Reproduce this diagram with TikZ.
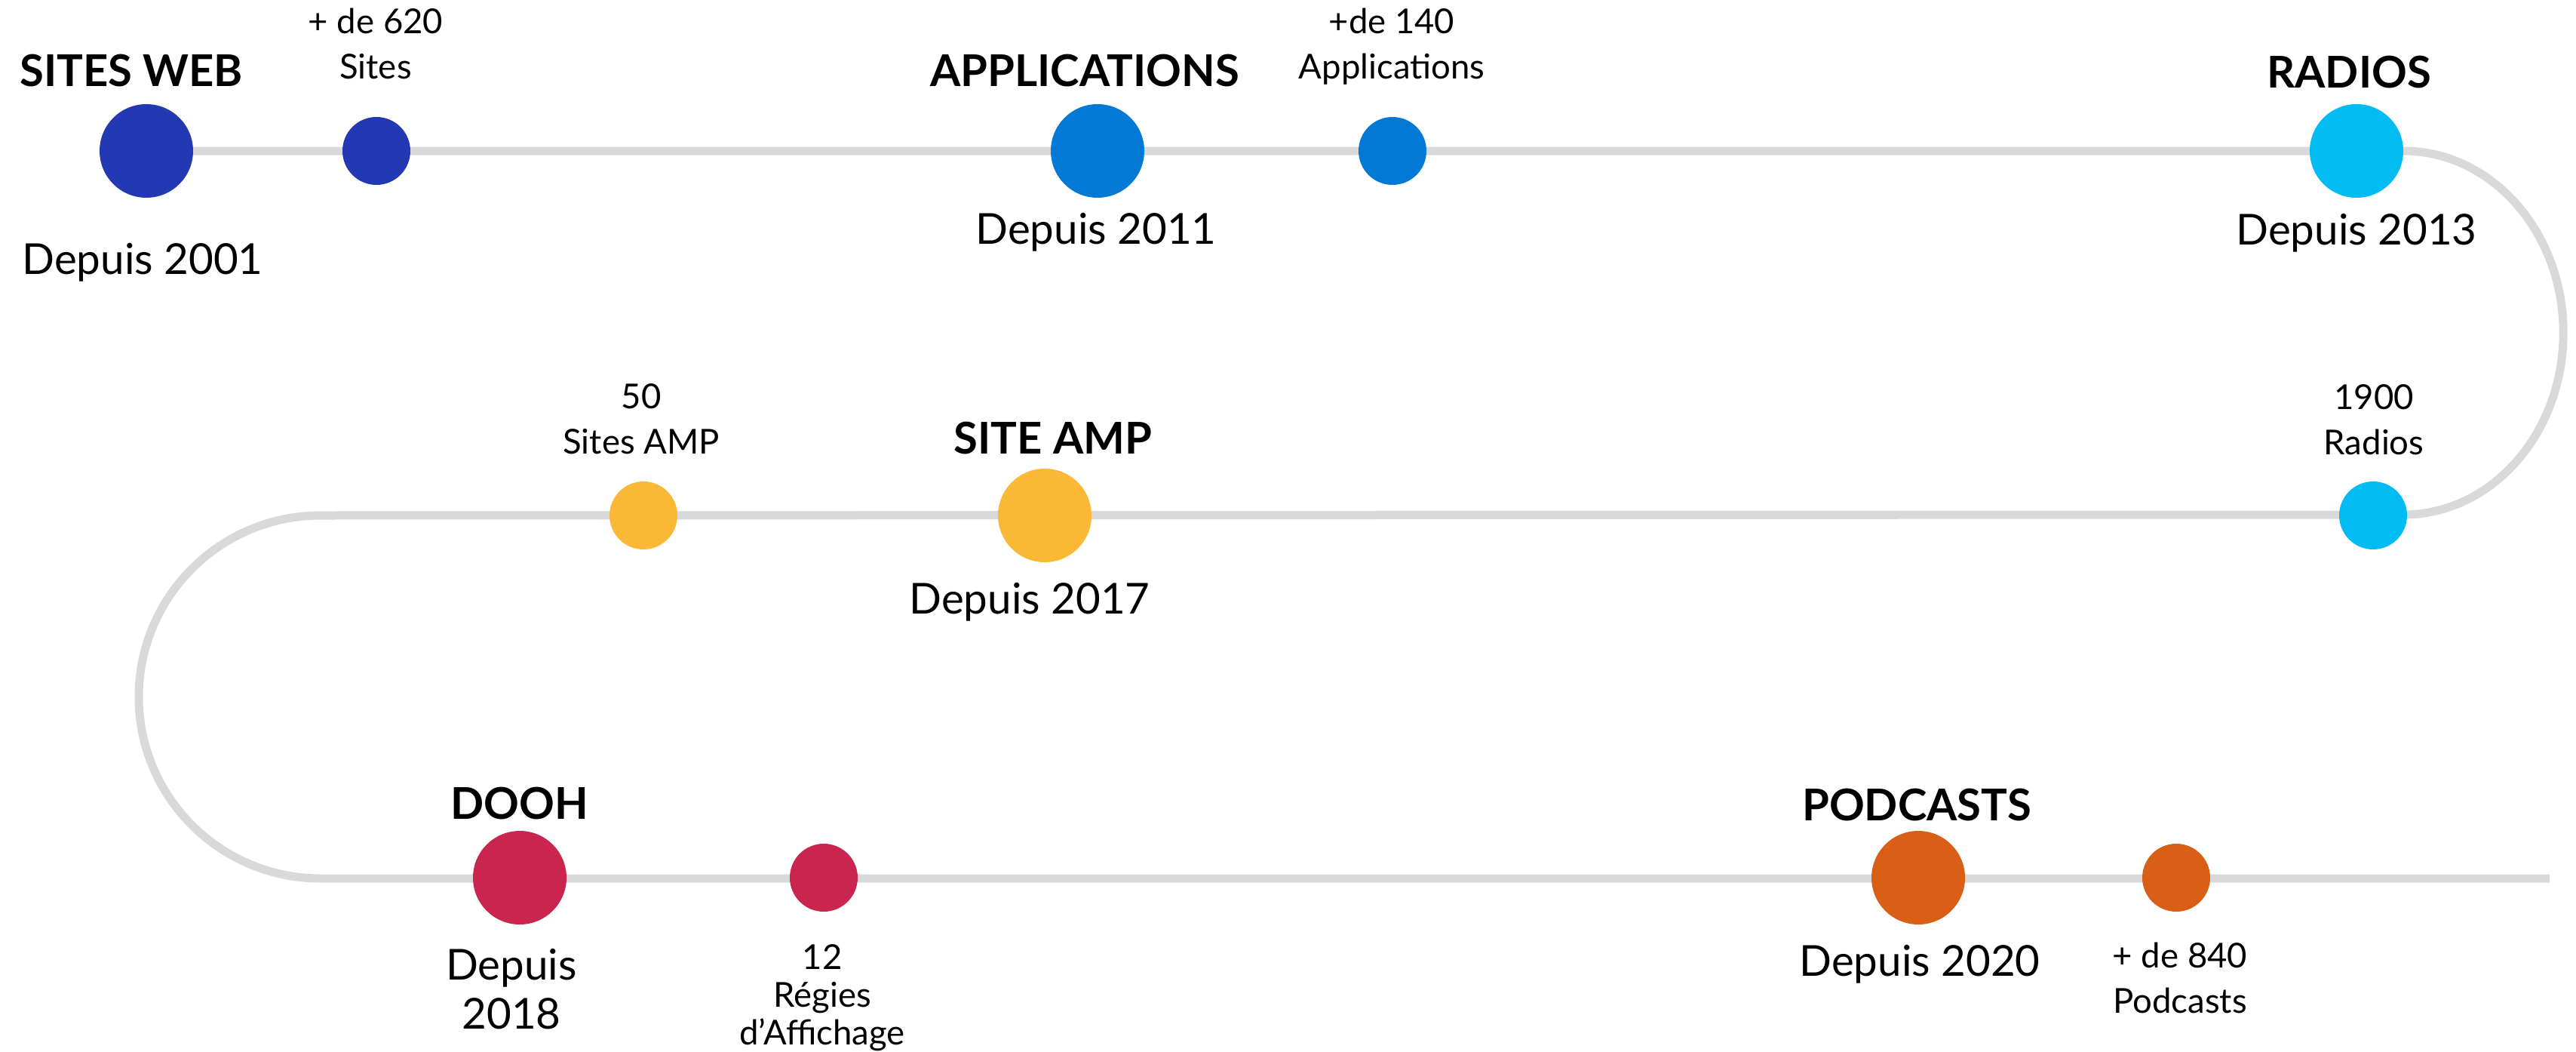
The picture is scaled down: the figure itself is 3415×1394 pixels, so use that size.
\documentclass[tikz,border=0pt]{standalone}
\usepackage{fontspec}
\setmainfont{Lato}
\usepackage{tikz}
\usetikzlibrary{backgrounds}
\definecolor{trackgray}{HTML}{D9D9D9}
\definecolor{webblue}{HTML}{2339B4}
\definecolor{appblue}{HTML}{0179D5}
\definecolor{radiocyan}{HTML}{00BCF3}
\definecolor{ampyellow}{HTML}{FAB836}
\definecolor{doohred}{HTML}{C9254F}
\definecolor{podorange}{HTML}{D85F15}
\tikzset{track/.style = {draw=trackgray, line width=11pt},
         bigdot/.style = {circle, fill=#1, minimum size=124pt, inner sep=0pt},
         smalldot/.style = {circle, fill=#1, minimum size=90pt, inner sep=0pt},
         title/.style = {anchor=base, inner sep=0pt, font=\fontsize{58}{68}\selectfont\bfseries},
         since/.style = {anchor=base, inner sep=0pt, align=center, font=\fontsize{56.5}{65}\selectfont},
         count/.style = {anchor=base, inner sep=0pt, align=center, font=\fontsize{45.5}{60}\selectfont}}

\begin{document}
\begin{tikzpicture}[x=1pt, y=-1pt]
      \useasboundingbox (0, 0) rectangle (3415, 1394);

      \node [bigdot=webblue] (web) at (194, 200) {};
      \node [smalldot=webblue] (webdot) at (499, 200) {};
      \node [bigdot=appblue] (app) at (1455, 200) {};
      \node [smalldot=appblue] (appdot) at (1846, 200) {};
      \node [bigdot=radiocyan] (radio) at (3124, 200) {};
      \node [smalldot=radiocyan] (radiodot) at (3146, 683) {};
      \node [bigdot=ampyellow] (amp) at (1385, 683) {};
      \node [smalldot=ampyellow] (ampdot) at (853, 683) {};
      \node [bigdot=doohred] (dooh) at (689, 1163) {};
      \node [smalldot=doohred] (doohdot) at (1092, 1163) {};
      \node [bigdot=podorange] (podcast) at (2543, 1163) {};
      \node [smalldot=podorange] (podcastdot) at (2885, 1163) {};
      \coordinate (rowtwoleft) at (425, 683);
      \coordinate (rowthreeend) at (3380, 1164);

      \begin{scope}[on background layer]
        \draw [track] (web.center) -- (radio.east)
              arc [start angle=90, end angle=-90, x radius=212pt, y radius=241pt]
              -- (rowtwoleft)
              arc [start angle=90, end angle=270, x radius=241pt, y radius=240.5pt]
              -- (rowthreeend);
      \end{scope}

      \node [title] (webtitle) at (174, 115) {SITES WEB};
      \node [since] (websince) at (189, 363) {Depuis 2001};
      \node [count] (webcount) at (498, 105) {+ de 620\\Sites};

      \node [title] (apptitle) at (1438, 115) {APPLICATIONS};
      \node [since] (appsince) at (1453, 323) {Depuis 2011};
      \node [count] (appcount) at (1845, 105) {+de 140\\Applications};

      \node [title] (radiotitle) at (3114, 117) {RADIOS};
      \node [since] (radiosince) at (3124, 324) {Depuis 2013};
      \node [count] (radiocount) at (3147, 602) {1900\\Radios};

      \node [title] (amptitle) at (1396, 601) {SITE AMP};
      \node [since] (ampsince) at (1365, 813) {Depuis 2017};
      \node [count] (ampcount) at (850, 601) {50\\Sites AMP};

      \node [title] (doohtitle) at (689, 1085) {DOOH};
      \node [since] (doohsince) at (678, 1363) {Depuis\\2018};
      \node [count, font=\fontsize{45.5}{50}\selectfont] (doohcount) at (1090, 1384) {12\\Régies\\d’Affichage};

      \node [title] (podcasttitle) at (2541, 1087) {PODCASTS};
      \node [since] (podcastsince) at (2545, 1293) {Depuis 2020};
      \node [count] (podcastcount) at (2890, 1342) {+ de 840\\Podcasts};
\end{tikzpicture}
\end{document}
